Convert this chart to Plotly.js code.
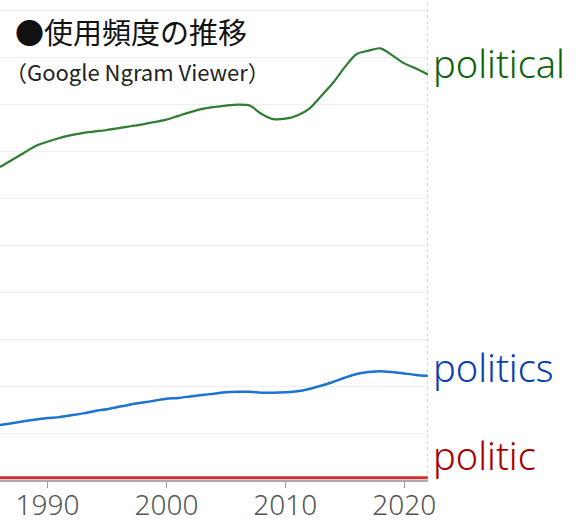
<!DOCTYPE html>
<html>
<head>
<meta charset="utf-8">
<script src="https://cdn.plot.ly/plotly-3.0.1.min.js"></script>
<style>
  html, body { margin: 0; padding: 0; background: #fff; }
  #myDiv { width: 580px; height: 522px; }
</style>
</head>
<body>
<div id="myDiv"></div>
<script>
var years = [1986, 1987, 1988, 1989, 1990, 1991, 1992, 1993, 1994, 1995,
             1996, 1997, 1998, 1999, 2000, 2001, 2002, 2003, 2004, 2005,
             2006, 2007, 2008, 2009, 2010, 2011, 2012, 2013, 2014, 2015,
             2016, 2017, 2018, 2019, 2020, 2021, 2022];

var political = [6.67, 6.82, 6.97, 7.12, 7.21, 7.29, 7.35, 7.40, 7.43, 7.46,
                 7.50, 7.54, 7.58, 7.63, 7.68, 7.76, 7.84, 7.91, 7.95, 7.98,
                 8.00, 7.98, 7.80, 7.69, 7.70, 7.77, 7.91, 8.18, 8.46, 8.80,
                 9.08, 9.15, 9.20, 9.05, 8.88, 8.77, 8.64];

var politics = [1.17, 1.21, 1.25, 1.29, 1.32, 1.34, 1.38, 1.42, 1.47, 1.51,
                1.56, 1.61, 1.65, 1.69, 1.73, 1.75, 1.78, 1.81, 1.84, 1.87,
                1.88, 1.88, 1.86, 1.86, 1.87, 1.89, 1.94, 2.01, 2.09, 2.18,
                2.26, 2.30, 2.32, 2.30, 2.27, 2.24, 2.22];

var politic = [0.05, 0.05, 0.05, 0.05, 0.05, 0.05, 0.05, 0.05, 0.05, 0.05,
               0.05, 0.05, 0.05, 0.05, 0.05, 0.05, 0.05, 0.05, 0.05, 0.05,
               0.05, 0.05, 0.05, 0.05, 0.05, 0.05, 0.05, 0.05, 0.05, 0.05,
               0.05, 0.05, 0.05, 0.05, 0.05, 0.05, 0.05];

var tickYears = [1990, 2000, 2010, 2020];

var jp = '"Noto Sans CJK JP", "Noto Sans", sans-serif';
var latin = '"Noto Sans", sans-serif';

function series(y, color, width) {
  return {
    x: years,
    y: y,
    mode: "lines",
    type: "scatter",
    line: {color: color, width: width, shape: "spline", smoothing: 0.8},
    hoverinfo: "skip"
  };
}

var data = [
  series(politic, "#d32f2f", 3),
  series(politics, "#1e73d2", 2.5),
  series(political, "#2e7d32", 2.2)
];

var layout = {
  width: 580,
  height: 522,
  margin: {l: 0, r: 152, t: 0, b: 42},
  paper_bgcolor: "#fff",
  plot_bgcolor: "#fff",
  showlegend: false,
  font: {family: jp},
  xaxis: {
    range: [1986, 2022],
    tickvals: tickYears,
    ticks: "outside",
    ticklen: 6,
    tickcolor: "#999",
    tickwidth: 1,
    ticklabelstandoff: -7,
    showgrid: false,
    zeroline: false,
    showline: true,
    linecolor: "#aaa",
    linewidth: 2,
    tickfont: {family: latin, size: 28, color: "#555", weight: 300},
    fixedrange: true
  },
  yaxis: {
    range: [0, 10.23],
    dtick: 1,
    showticklabels: false,
    showgrid: true,
    gridcolor: "#eeeeee",
    gridwidth: 1,
    zeroline: false,
    fixedrange: true
  },
  shapes: [{
    type: "line",
    xref: "x", yref: "paper",
    x0: 2022, x1: 2022, y0: 0, y1: 1,
    line: {color: "#aaa", width: 1, dash: "dot"}
  }],
  annotations: [
    {
      text: "●使用頻度の推移",
      xref: "paper", yref: "paper", x: 0.03, y: 0.935,
      xanchor: "left", yanchor: "middle", showarrow: false,
      font: {family: jp, size: 29, color: "#111"}
    },
    {
      text: "（Google Ngram Viewer）",
      xref: "paper", yref: "paper", x: 0.008, y: 0.853,
      xanchor: "left", yanchor: "middle", showarrow: false,
      font: {family: jp, size: 22, color: "#222"}
    },
    {
      text: "political",
      xref: "paper", yref: "y", x: 1, y: 8.88, xshift: 3,
      xanchor: "left", yanchor: "middle", showarrow: false,
      font: {family: latin, size: 38, color: "#0b640b", weight: 300}
    },
    {
      text: "politics",
      xref: "paper", yref: "y", x: 1, y: 2.40, xshift: 3,
      xanchor: "left", yanchor: "middle", showarrow: false,
      font: {family: latin, size: 38, color: "#0a3fae", weight: 300}
    },
    {
      text: "politic",
      xref: "paper", yref: "y", x: 1, y: 0.54, xshift: 3,
      xanchor: "left", yanchor: "middle", showarrow: false,
      font: {family: latin, size: 38, color: "#a80000", weight: 300}
    }
  ]
};

Plotly.newPlot('myDiv', data, layout, {displayModeBar: false, staticPlot: true});
</script>
</body>
</html>
